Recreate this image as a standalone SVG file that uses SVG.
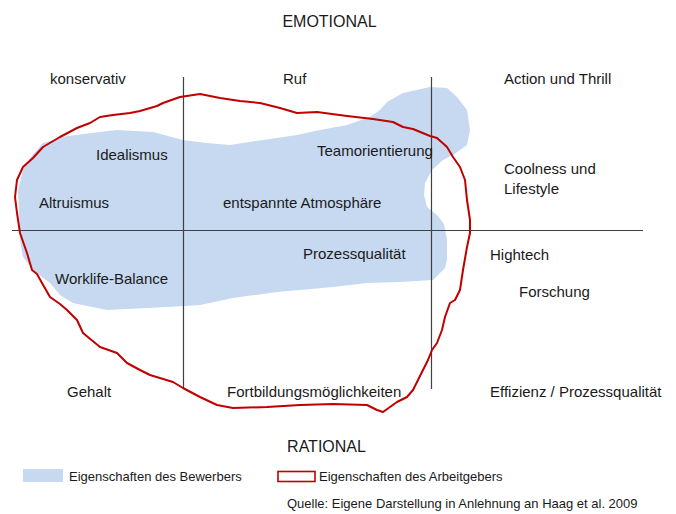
<svg xmlns="http://www.w3.org/2000/svg" width="676" height="514" viewBox="0 0 676 514">
  <style>
    text { font-family: "Liberation Sans", Arial, sans-serif; fill: #1a1a1a; }
    .lbl { font-size: 15px; }
    .axis-title { font-size: 16px; }
    .small { font-size: 13px; }
    .axis { stroke: #404040; stroke-width: 1.2; fill: none; }
    .applicant { fill: #c6d9f0; stroke: none; }
    .employer { fill: none; stroke: #c00000; stroke-width: 2; stroke-linejoin: round; }
  </style>

  <rect width="676" height="514" fill="#ffffff"/>

  <!-- Applicant profile (filled area) -->
  <g id="applicant-area">
    <path class="applicant" d="M43,143 L67,136 L117,130 L153,132 L183,140 L207,143 L230,145 L263,140 L297,135 L320,130 L347,125 L370,117 L380,110 L387,102 L403,93 L430,87 L447,88 L457,97 L467,110 L470,130 L467,145 L453,155 L443,160 L432,170 L425,183 L424,195 L427,207 L437,215 L444,224 L447,240 L447,260 L445,268 L433,280 L400,282 L367,283 L333,287 L277,292 L233,298 L200,305 L167,307 L107,310 L73,303 L60,295 L50,283 L33,270 L23,257 L20,240 L19,213 L18,190 L23,170 L30,158 Z"/>
  </g>

  <!-- Quadrant axes -->
  <g id="axes">
    <line class="axis" x1="12" y1="230.5" x2="643" y2="230.5"/>
    <line class="axis" x1="183.5" y1="77" x2="183.5" y2="388"/>
    <line class="axis" x1="431.5" y1="77" x2="431.5" y2="389"/>
  </g>

  <!-- Employer profile (outline) -->
  <g id="employer-area">
    <path class="employer" d="M180,97 L200,94 L220,98 L240,101 L260,103 L280,108 L297,113 L317,112 L347,116 L373,119 L393,122 L403,127 L413,129 L430,136 L437,138 L447,147 L453,157 L460,167 L465,180 L467,200 L470,220 L470,233 L467,247 L463,270 L460,290 L455,300 L450,303 L445,317 L442,330 L437,343 L432,350 L428,360 L423,370 L418,380 L413,390 L407,397 L397,402 L383,412 L377,410 L367,405 L333,404 L300,405 L267,407 L233,408 L217,405 L200,397 L183,388 L173,382 L150,375 L140,370 L127,363 L117,353 L100,347 L83,333 L77,320 L67,310 L60,304 L50,297 L42,283 L37,274 L32,270 L27,253 L20,233 L17,213 L15,197 L17,180 L23,167 L33,158 L43,147 L60,137 L77,128 L90,123 L100,117 L113,115 L130,113 L140,111 L157,106 L163,103 Z"/>
  </g>

  <!-- Axis titles -->
  <g id="axis-titles">
    <text class="axis-title" x="329.5" y="27" text-anchor="middle">EMOTIONAL</text>
    <text class="axis-title" x="326.5" y="452" text-anchor="middle">RATIONAL</text>
  </g>

  <!-- Attributes -->
  <g id="labels">
    <text class="lbl" x="50" y="84">konservativ</text>
    <text class="lbl" x="283" y="84">Ruf</text>
    <text class="lbl" x="504" y="84">Action und Thrill</text>
    <text class="lbl" x="96" y="160">Idealismus</text>
    <text class="lbl" x="317" y="156">Teamorientierung</text>
    <text class="lbl" x="504" y="174">Coolness und</text>
    <text class="lbl" x="504" y="194">Lifestyle</text>
    <text class="lbl" x="39" y="208">Altruismus</text>
    <text class="lbl" x="223" y="208">entspannte Atmosphäre</text>
    <text class="lbl" x="303" y="259">Prozessqualität</text>
    <text class="lbl" x="490" y="260">Hightech</text>
    <text class="lbl" x="55" y="284">Worklife-Balance</text>
    <text class="lbl" x="519" y="297">Forschung</text>
    <text class="lbl" x="67" y="397">Gehalt</text>
    <text class="lbl" x="227" y="397">Fortbildungsmöglichkeiten</text>
    <text class="lbl" x="490" y="397">Effizienz / Prozessqualität</text>
  </g>

  <!-- Legend -->
  <g id="legend">
    <rect class="applicant" x="23" y="469" width="40" height="13"/>
    <text class="small" x="69" y="481">Eigenschaften des Bewerbers</text>
    <rect x="278" y="471.5" width="37" height="10" fill="none" stroke="#c00000" stroke-width="1.6"/>
    <text class="small" x="319" y="481">Eigenschaften des Arbeitgebers</text>
    <text class="small" x="287" y="508">Quelle: Eigene Darstellung in Anlehnung an Haag et al. 2009</text>
  </g>
</svg>
